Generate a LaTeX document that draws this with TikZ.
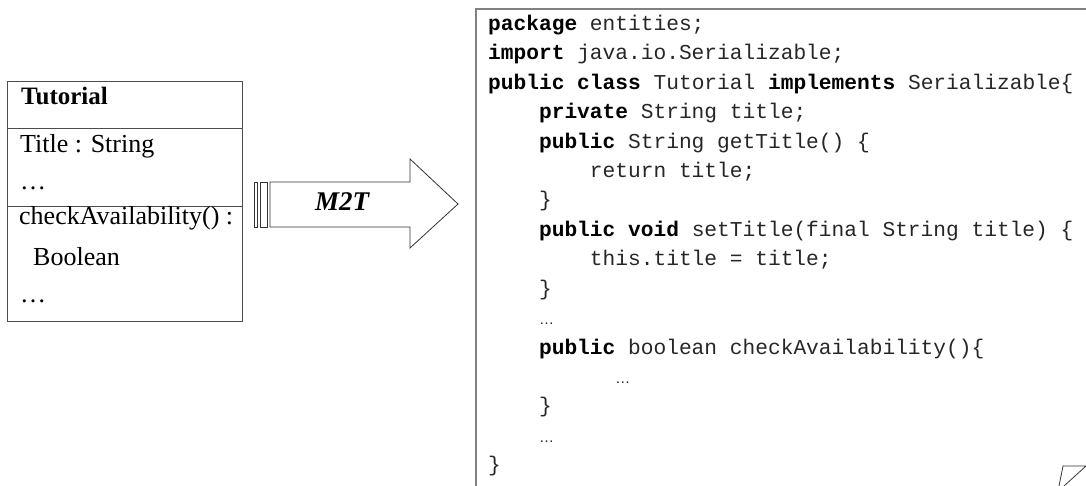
\documentclass[tikz,border=0pt]{standalone}
\usepackage{fontspec}
\setmainfont{Liberation Serif}
\setmonofont{Liberation Mono}
\newfontfamily\ellfont{Liberation Sans}
\begin{document}
\begin{tikzpicture}[x=1pt,y=-1pt,
  umlline/.style={draw=black!70, line width=1pt},
  umltext/.style={inner sep=0pt, anchor=mid west, font=\fontsize{26}{30}\selectfont},
  umldots/.style={inner sep=0pt, anchor=base west, font=\fontsize{26}{30}\selectfont},
  codeline/.style={inner sep=0pt, anchor=base west, text=black!85, font=\ttfamily\fontsize{21.2}{25}\selectfont},
  codedots/.style={inner sep=0pt, anchor=base west, text=black!85, font=\ellfont\fontsize{15}{18}\selectfont},
  kw/.style={},
  arrowline/.style={draw=black!80, line width=0.8pt, fill=white},
  framebox/.style={draw=black!50, line width=1.6pt}
]
\useasboundingbox (0,0) rectangle (1086,486);

% UML class box
\draw[umlline] (7,82) rectangle (242,321);
\draw[umlline] (7,129) -- (242,129);
\draw[umlline] (7,207) -- (242,207);
\node[umltext, font=\bfseries\fontsize{25}{30}\selectfont] (cname) at (21,102) {Tutorial};
\node[umltext] (attr1) at (20,150) {Title : String};
\node[umldots] (attr2) at (20,190) {…};
\node[umltext] (op1) at (19,222) {checkAvailability() :};
\node[umltext] (op2) at (33,263) {Boolean};
\node[umldots] (op3) at (20,302) {…};

% M2T arrow
\draw[arrowline] (254,182) rectangle (257,227);
\draw[arrowline] (260,182) rectangle (267,227);
\draw[arrowline] (270,182) -- (410,182) -- (410,159) -- (458,204) -- (410,248) -- (410,227) -- (270,227) -- cycle;
\node[inner sep=0pt, font=\bfseries\itshape\fontsize{27}{30}\selectfont] (m2t) at (342,202) {M2T};

% code frame
\draw[framebox] (476,486) -- (476,9) -- (1086,9);

% code lines
\newcommand\kwd[1]{\textcolor{black}{\textbf{#1}}}
\def\cx{488}
\def\cw{12.72}
\node[codeline] (l1) at (\cx,30.6) {\kwd{package} entities;};
\node[codeline] (l2) at (\cx,60) {\kwd{import} java.io.Serializable;};
\node[codeline] (l3) at (\cx,89.4) {\kwd{public class} Tutorial \kwd{implements} Serializable\{};
\node[codeline] (l4) at (\cx+4*\cw,118.8) {\kwd{private} String title;};
\node[codeline] (l5) at (\cx+4*\cw,148.2) {\kwd{public} String getTitle() \{};
\node[codeline] (l6) at (\cx+8*\cw,177.6) {return title;};
\node[codeline] (l7) at (\cx+4*\cw,207) {\}};
\node[codeline] (l8) at (\cx+4*\cw,236.4) {\kwd{public void} setTitle(final String title) \{};
\node[codeline] (l9) at (\cx+8*\cw,265.8) {this.title = title;};
\node[codeline] (l10) at (\cx+4*\cw,295.2) {\}};
\node[codedots] (l11) at (\cx+4*\cw,324.6) {…};
\node[codeline] (l12) at (\cx+4*\cw,354) {\kwd{public} boolean checkAvailability()\{};
\node[codedots] (l13) at (\cx+10*\cw,383.4) {…};
\node[codeline] (l14) at (\cx+4*\cw,412.8) {\}};
\node[codedots] (l15) at (\cx+4*\cw,442.2) {…};
\node[codeline] (l16) at (\cx,471.6) {\}};

% page curl
\draw[black!80, line width=0.8pt] (1059,486) -- (1063,466) -- (1086,466) -- (1064,486);
\end{tikzpicture}
\end{document}
